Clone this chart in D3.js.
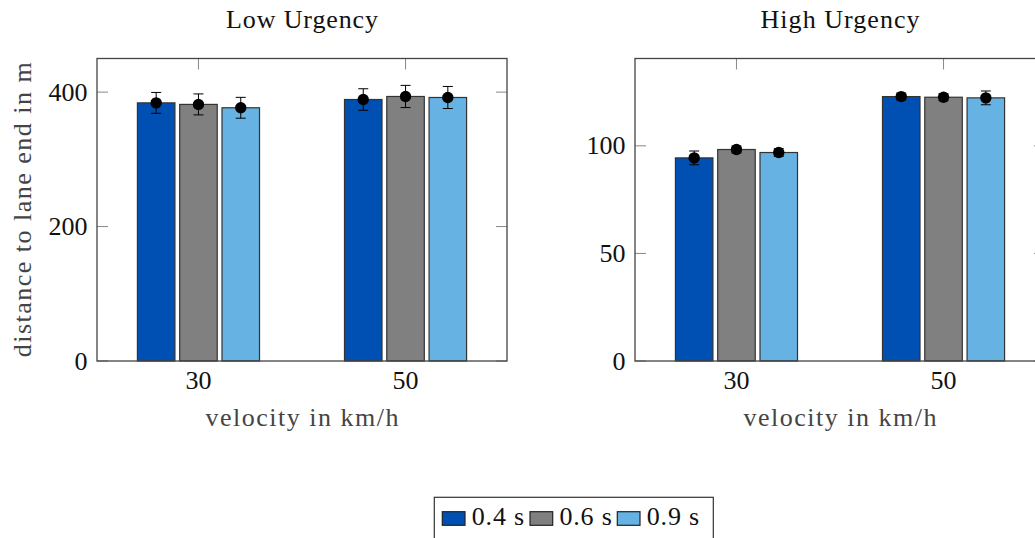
<!DOCTYPE html>
<html>
<head>
<meta charset="utf-8">
<script src="https://cdn.jsdelivr.net/npm/d3@7"></script>
<style>
  html, body { margin: 0; padding: 0; background: #fff; overflow: hidden; }
  svg { display: block; }
  text { font-family: "Liberation Serif", "Times New Roman", serif; }
</style>
</head>
<body>
<svg id="chart" width="1035" height="538"></svg>
<script>
// ---- data ----
const categories = ["30", "50"];
const seriesNames = ["0.4 s", "0.6 s", "0.9 s"];
const seriesColors = ["#0050B4", "#808080", "#66B3E3"];

// Low urgency: means and error (one value per category per series)
const lowMean_04 = [384.0, 389.0];
const lowMean_06 = [381.7, 393.5];
const lowMean_09 = [376.7, 392.0];
const lowErr_04 = [15.5, 16.0];
const lowErr_06 = [15.6, 16.5];
const lowErr_09 = [15.5, 16.4];

// High urgency
const highMean_04 = [94.4, 122.9];
const highMean_06 = [98.3, 122.6];
const highMean_09 = [96.9, 122.3];
const highErr_04 = [3.2, 1.6];
const highErr_06 = [1.6, 1.6];
const highErr_09 = [1.8, 3.2];

const lowTicks = [0, 200, 400];
const highTicks = [0, 50, 100];

const panels = [
  { title: "Low Urgency", titleLen: 152, means: [lowMean_04, lowMean_06, lowMean_09], errs: [lowErr_04, lowErr_06, lowErr_09],
    yMax: 450, ticks: lowTicks, x0: 97, yLabel: "distance to lane end in m" },
  { title: "High Urgency", titleLen: 159, means: [highMean_04, highMean_06, highMean_09], errs: [highErr_04, highErr_06, highErr_09],
    yMax: 140.6, ticks: highTicks, x0: 635, yLabel: null }
];

// ---- layout ----
const svg = d3.select("#chart");
const plotW = 410, plotTop = 58.5, plotBottom = 361;
const fontSize = 26;
const axisColor = "#444", tickColor = "#888", labelColor = "#444";

panels.forEach(p => {
  const g = svg.append("g");
  const x = d3.scalePoint().domain(categories).range([p.x0, p.x0 + plotW]).padding(0.49);
  const inner = d3.scaleBand().domain(seriesNames).range([-61.05, 61.05]).paddingInner(0.113);
  const y = d3.scaleLinear().domain([0, p.yMax]).range([plotBottom, plotTop]);
  const x1 = p.x0 + plotW;

  // ticks (inside)
  p.ticks.forEach(t => {
    g.append("line").attr("x1", p.x0).attr("x2", p.x0 + 11).attr("y1", y(t)).attr("y2", y(t))
      .attr("stroke", tickColor).attr("stroke-width", 1);
    g.append("line").attr("x1", x1 - 11).attr("x2", x1).attr("y1", y(t)).attr("y2", y(t))
      .attr("stroke", tickColor).attr("stroke-width", 1);
  });
  categories.forEach(c => {
    g.append("line").attr("x1", x(c)).attr("x2", x(c)).attr("y1", plotTop).attr("y2", plotTop + 11)
      .attr("stroke", tickColor).attr("stroke-width", 1);
    g.append("line").attr("x1", x(c)).attr("x2", x(c)).attr("y1", plotBottom).attr("y2", plotBottom - 11)
      .attr("stroke", tickColor).attr("stroke-width", 1);
  });

  // bars
  seriesNames.forEach((s, si) => {
    categories.forEach((c, ci) => {
      const v = p.means[si][ci];
      g.append("rect")
        .attr("x", x(c) + inner(s)).attr("width", inner.bandwidth())
        .attr("y", y(v)).attr("height", y(0) - y(v))
        .attr("fill", seriesColors[si]).attr("stroke", "#333").attr("stroke-width", 1.2);
    });
  });

  // error bars and markers
  seriesNames.forEach((s, si) => {
    categories.forEach((c, ci) => {
      const v = p.means[si][ci], e = p.errs[si][ci];
      const cx = x(c) + inner(s) + inner.bandwidth() / 2;
      g.append("line").attr("x1", cx).attr("x2", cx).attr("y1", y(v + e)).attr("y2", y(v - e))
        .attr("stroke", "#000").attr("stroke-width", 1);
      [v + e, v - e].forEach(val => {
        g.append("line").attr("x1", cx - 5).attr("x2", cx + 5).attr("y1", y(val)).attr("y2", y(val))
          .attr("stroke", "#000").attr("stroke-width", 1);
      });
      g.append("circle").attr("cx", cx).attr("cy", y(v)).attr("r", 5.7).attr("fill", "#000");
    });
  });

  // frame
  g.append("rect").attr("x", p.x0).attr("y", plotTop).attr("width", plotW).attr("height", plotBottom - plotTop)
    .attr("fill", "none").attr("stroke", axisColor).attr("stroke-width", 1.3);

  // y tick labels
  p.ticks.forEach(t => {
    g.append("text").attr("x", p.x0 - 9.5).attr("y", y(t) + 8.5)
      .attr("text-anchor", "end").attr("font-size", fontSize).attr("fill", "#111").text(t);
  });
  // x tick labels
  categories.forEach(c => {
    g.append("text").attr("x", x(c)).attr("y", 389)
      .attr("text-anchor", "middle").attr("font-size", fontSize).attr("fill", "#111").text(c);
  });
  // x axis label
  g.append("text").attr("x", p.x0 + plotW / 2).attr("y", 426)
    .attr("text-anchor", "middle").attr("font-size", fontSize).attr("fill", labelColor)
    .attr("textLength", 193).attr("lengthAdjust", "spacing")
    .text("velocity in km/h");
  // title
  g.append("text").attr("x", p.x0 + plotW / 2).attr("y", 27.5)
    .attr("text-anchor", "middle").attr("font-size", fontSize).attr("fill", "#111")
    .attr("textLength", p.titleLen).attr("lengthAdjust", "spacing")
    .text(p.title);
  // y label
  if (p.yLabel) {
    g.append("text").attr("transform", `translate(31,${(plotTop + plotBottom) / 2}) rotate(-90)`)
      .attr("text-anchor", "middle").attr("font-size", fontSize).attr("fill", labelColor)
      .attr("textLength", 295).attr("lengthAdjust", "spacing")
      .text(p.yLabel);
  }
});

// ---- legend ----
const leg = svg.append("g");
leg.append("rect").attr("x", 434.3).attr("y", 497.3).attr("width", 279).attr("height", 60)
  .attr("fill", "#fff").attr("stroke", "#333").attr("stroke-width", 1.2);
const legX = [442.3, 530, 617.3];
seriesNames.forEach((s, i) => {
  leg.append("rect").attr("x", legX[i]).attr("y", 511.7).attr("width", 22.7).attr("height", 13.6)
    .attr("fill", seriesColors[i]).attr("stroke", "#222").attr("stroke-width", 1.2);
  leg.append("text").attr("x", legX[i] + 29.4).attr("y", 525)
    .attr("font-size", fontSize).attr("fill", "#111")
    .attr("textLength", 52.5).attr("lengthAdjust", "spacing").text(s);
});
</script>
</body>
</html>
